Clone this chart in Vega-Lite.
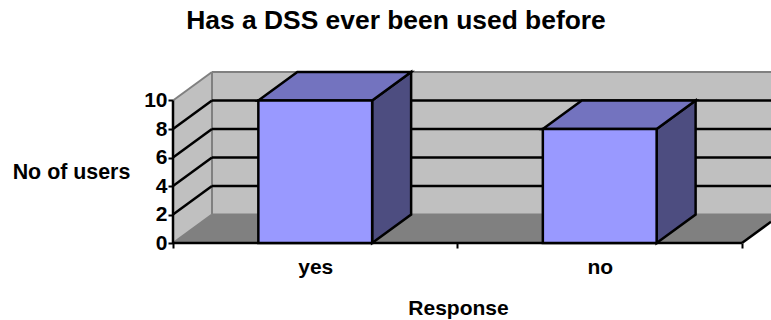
{
"$schema":"https://vega.github.io/schema/vega-lite/v6.json",
"width":598,"height":171,
"padding":{"left":173,"top":72,"right":0,"bottom":77},
"autosize":{"type":"none"},
"background":"white",
"params":[{"name":"dx","value":0.137},{"name":"dy","value":2}],
"title":{"text":"Has a DSS ever been used before","font":"Liberation Sans","fontWeight":"bold","fontSize":26.4,"color":"black","anchor":"middle","dx":-76,"offset":33},
"config":{"view":{"stroke":null},"font":"Liberation Sans"},
"datasets":{
"bars":[{"response":"yes","start":0.3,"end":0.7,"users":10},{"response":"no","start":1.3,"end":1.7,"users":8}],
"grid":[{"tick":2},{"tick":4},{"tick":6},{"tick":8}],
"leftwall":[{"x":0,"y":0,"y2":10},{"x":0.137,"y":2,"y2":12}],
"floor":[{"y":0,"x":0,"x2":2},{"y":2,"x":0.137,"x2":2.137}],
"backwall":[{"x":0.137,"x2":2.102,"y":2,"y2":12}],
"edges":[{"x":0,"x2":0.137,"y":10,"y2":12},{"x":0,"x2":0.137,"y":0,"y2":2},{"x":0.137,"x2":0.137,"y":2,"y2":12},{"x":0.137,"x2":2.102,"y":12,"y2":12},{"x":0.137,"x2":2.102,"y":2,"y2":2}]
},
"layer":[
{"data":{"name":"backwall"},"mark":{"type":"rect","fill":"#C0C0C0","clip":true},
"encoding":{
"x":{"field":"x","type":"quantitative","scale":{"domain":[0,2.102],"nice":false,"zero":false},"axis":{"values":[0,0.5,1,1.5,2],"title":"Response","titleFont":"Liberation Sans","titleFontWeight":"bold","titleFontSize":21,"titleColor":"black","titleX":285,"titleY":65,"titleBaseline":"middle","titleAlign":"center","grid":false,"domain":false,"ticks":true,"tickColor":"black","tickWidth":2,"tickSize":5,"tickOpacity":{"expr":"datum.value==0.5||datum.value==1.5?0:1"},"labelFont":"Liberation Sans","labelFontWeight":"bold","labelFontSize":21,"labelColor":"black","labelPadding":8,"labelAngle":0,"labelFlush":false,"labelOverlap":false,"labelExpr":"datum.value==0.5?'yes':datum.value==1.5?'no':''"}},
"x2":{"field":"x2"},
"y":{"field":"y","type":"quantitative","scale":{"domain":[0,12],"nice":false},"axis":{"values":[0,2,4,6,8,10],"tickCount":6,"title":"No of users","titleFont":"Liberation Sans","titleFontWeight":"bold","titleFontSize":21.4,"titleColor":"black","titleAngle":0,"titleX":-102,"titleY":100,"titleBaseline":"middle","titleAlign":"center","grid":false,"domain":false,"tickColor":"black","tickWidth":2,"tickSize":5,"labelFont":"Liberation Sans","labelFontWeight":"bold","labelFontSize":21,"labelColor":"black","labelPadding":1,"labelOverlap":false,"labelSeparation":0,"labelBound":false}},
"y2":{"field":"y2"}}},
{"data":{"name":"leftwall"},"mark":{"type":"area","orient":"vertical","fill":"#C0C0C0"},
"encoding":{"x":{"field":"x","type":"quantitative"},"y":{"field":"y","type":"quantitative"},"y2":{"field":"y2"}}},
{"data":{"name":"floor"},"mark":{"type":"area","orient":"horizontal","fill":"#808080","clip":true},
"encoding":{"y":{"field":"y","type":"quantitative"},"x":{"field":"x","type":"quantitative"},"x2":{"field":"x2"}}},
{"data":{"name":"edges"},"mark":{"type":"rule","stroke":"#808080","strokeWidth":2},
"encoding":{"x":{"field":"x","type":"quantitative"},"x2":{"field":"x2"},"y":{"field":"y","type":"quantitative"},"y2":{"field":"y2"}}},
{"data":{"name":"grid"},"transform":[{"calculate":"datum.tick+2","as":"backy"},{"calculate":"dx","as":"gx"},{"calculate":"2.102","as":"gx2"}],
"mark":{"type":"rule","stroke":"black","strokeWidth":2.5},
"encoding":{"x":{"field":"gx","type":"quantitative"},"x2":{"field":"gx2"},"y":{"field":"backy","type":"quantitative"}}},
{"data":{"name":"grid"},"transform":[{"calculate":"datum.tick+2","as":"backy"},{"calculate":"0","as":"gx"},{"calculate":"dx","as":"gx2"}],
"mark":{"type":"rule","stroke":"black","strokeWidth":2.5},
"encoding":{"x":{"field":"gx","type":"quantitative"},"x2":{"field":"gx2"},"y":{"field":"tick","type":"quantitative"},"y2":{"field":"backy"}}},
{"data":{"values":[{"x":0,"x2":2,"y":0,"y2":0},{"x":0,"x2":0,"y":0,"y2":10},{"x":2,"x2":2.102,"y":0,"y2":1.489}]},"mark":{"type":"rule","stroke":"black","strokeWidth":2.5},
"encoding":{"x":{"field":"x","type":"quantitative"},"x2":{"field":"x2"},"y":{"field":"y","type":"quantitative"},"y2":{"field":"y2"}}},
{"data":{"name":"bars"},"transform":[{"calculate":"[0,1]","as":"t"},{"flatten":["t"]},{"calculate":"datum.end+datum.t*dx","as":"sx"},{"calculate":"datum.t*dy","as":"sy"},{"calculate":"datum.users+datum.t*dy","as":"sy2"}],
"mark":{"type":"area","orient":"vertical","fill":"#4D4D80","stroke":"black","strokeWidth":2.5},
"encoding":{"detail":{"field":"response","type":"nominal"},"x":{"field":"sx","type":"quantitative"},"y":{"field":"sy","type":"quantitative"},"y2":{"field":"sy2"}}},
{"data":{"name":"bars"},"transform":[{"calculate":"[0,1]","as":"t"},{"flatten":["t"]},{"calculate":"datum.start+datum.t*dx","as":"tx"},{"calculate":"datum.end+datum.t*dx","as":"tx2"},{"calculate":"datum.users+datum.t*dy","as":"ty"}],
"mark":{"type":"area","orient":"horizontal","fill":"#7373BF","stroke":"black","strokeWidth":2.5},
"encoding":{"detail":{"field":"response","type":"nominal"},"y":{"field":"ty","type":"quantitative"},"x":{"field":"tx","type":"quantitative"},"x2":{"field":"tx2"}}},
{"data":{"name":"bars"},"transform":[{"calculate":"0","as":"base"}],"mark":{"type":"rect","fill":"#9999FF","stroke":"black","strokeWidth":2.5},
"encoding":{"x":{"field":"start","type":"quantitative"},"x2":{"field":"end"},"y":{"field":"base","type":"quantitative"},"y2":{"field":"users"}}}
]
}
